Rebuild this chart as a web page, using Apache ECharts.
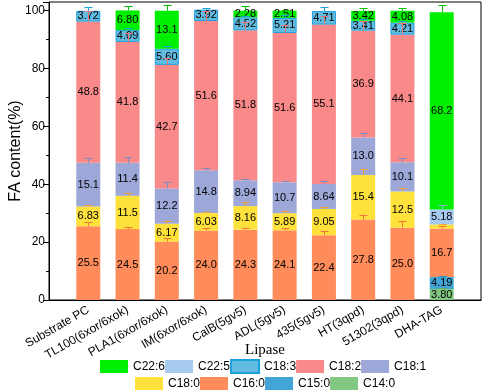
<!DOCTYPE html>
<html><head><meta charset="utf-8">
<script src="https://cdn.jsdelivr.net/npm/echarts@6/dist/echarts.min.js"></script>
<style>html,body{margin:0;padding:0;background:#fff}#c{width:484px;height:391px}</style>
</head><body><div id="c"></div>
<script>
// ---- data ----
const categories = ['Substrate PC','TL100(6xor/6xok)','PLA1(6xor/6xok)','IM(6xor/6xok)','CalB(5gv5)','ADL(5gv5)','435(5gv5)','HT(3qpd)','51302(3qpd)','DHA-TAG'];
const seriesNames = ['C14:0','C15:0','C16:0','C18:0','C18:1','C18:2','C18:3','C22:5','C22:6'];
const c14_0 = [null,null,null,null,null,null,null,null,null,3.80];
const c15_0 = [null,null,null,null,null,null,null,null,null,4.19];
const c16_0 = [25.5,24.5,20.2,24.0,24.3,24.1,22.4,27.8,25.0,16.7];
const c18_0 = [6.83,11.5,6.17,6.03,8.16,5.89,9.05,15.4,12.5,1.4];
const c18_1 = [15.1,11.4,12.2,14.8,8.94,10.7,8.64,13.0,10.1,null];
const c18_2 = [48.8,41.8,42.7,51.6,51.8,51.6,55.1,36.9,44.1,null];
const c18_3 = [3.72,4.09,5.60,3.92,4.52,5.21,4.71,3.41,4.21,null];
const c22_5 = [null,null,null,null,null,null,null,null,null,5.18];
const c22_6 = [null,6.80,13.1,null,2.28,2.51,null,3.42,4.08,68.2];
// error bars (upper), estimated
const e14_0 = [0,0,0,0,0,0,0,0,0,0.2];
const e15_0 = [0,0,0,0,0,0,0,0,0,0.3];
const e16_0 = [1.4,0.9,1.1,1.0,0.7,0.9,1.6,1.6,2.3,1.0];
const e18_0 = [0.6,0.9,1.0,0.4,1.3,0.9,0.8,2.0,1.1,0.3];
const e18_1 = [1.6,2.0,2.1,0.9,0.5,0.3,1.1,1.5,1.4,0];
const e18_2 = [3.5,3.0,2.4,3.5,3.0,2.8,3.0,3.5,4.0,0];
const e18_3 = [1.3,0.7,1.0,0.6,0.5,1.1,1.4,0.5,0.5,0];
const e22_5 = [0,0,0,0,0,0,0,0,0,1.6];
const e22_6 = [0,1.4,1.9,0,1.7,0.3,0,1.1,0.9,2.6];
const yTickLabels = [0,20,40,60,80,100];

const values = [c14_0,c15_0,c16_0,c18_0,c18_1,c18_2,c18_3,c22_5,c22_6];
const errors = [e14_0,e15_0,e16_0,e18_0,e18_1,e18_2,e18_3,e22_5,e22_6];
const colors = ['#82C882','#42A5D5','#FF8C5A','#FFE13C','#9DA7D8','#FA8A8A','#62BCE2','#A7CBF0','#00EE00'];
const errColors = ['#5DB05D','#2A8FC8','#F2753A','#F2A030','#7F8AC8','#F07272','#1EA0DC','#86B4E6','#00C000'];
const FONT = 'Liberation Sans, Arial, sans-serif';

const axisCats = [''].concat(categories, ['']);

const barSeries = seriesNames.map((name, k) => ({
  name, type: 'bar', stack: 'fa', barWidth: 24,
  data: values[k].map((v, i) => [i + 1, v]),
  itemStyle: k === 6 ? {color: colors[k], borderColor: '#1EA0DC', borderWidth: 1} : {color: colors[k]},
  label: {
    show: true, position: 'inside', color: '#000', fontSize: 11, fontFamily: FONT,
    formatter: p => (p.value[1] == null || p.value[1] < 2) ? '' : Number(p.value[1]).toPrecision(3)
  },
  emphasis: {disabled: true}
}));

const errData = [];
for (let i = 0; i < categories.length; i++) {
  let cum = 0;
  for (let k = 0; k < seriesNames.length; k++) {
    const v = values[k][i];
    if (v == null) continue;
    cum += v;
    if (errors[k][i] > 0) errData.push([i + 1, cum, errors[k][i], k]);
  }
}

const errSeries = {
  type: 'custom', z: 5, silent: true,
  data: errData,
  encode: {x: 0, y: 1},
  renderItem(params, api) {
    const x = api.value(0), top = api.value(1), err = api.value(2);
    const p0 = api.coord([x, top]);
    const p1 = api.coord([x, top + err]);
    const c = errColors[api.value(3)];
    const xx = Math.round(p0[0]) + 0.5, yt = Math.round(p1[1]) + 0.5;
    return {type: 'group', children: [
      {type: 'line', shape: {x1: xx, y1: p0[1], x2: xx, y2: yt}, style: {stroke: c, lineWidth: 1}},
      {type: 'line', shape: {x1: xx - 4, y1: yt, x2: xx + 4, y2: yt}, style: {stroke: c, lineWidth: 1}}
    ]};
  }
};

const chart = echarts.init(document.getElementById('c'), null, {renderer: 'canvas'});
const legendCommon = {
  orient: 'horizontal', itemWidth: 28, itemHeight: 13, itemGap: 0, icon: 'rect', padding: 0,
  textStyle: {fontSize: 12, fontFamily: FONT, color: '#000'},
  selectedMode: false
};
chart.setOption({
  animation: false,
  backgroundColor: '#fff',
  grid: {left: 45, right: 3, top: 2, bottom: 91, show: true, borderColor: '#000', borderWidth: 1, backgroundColor: 'transparent'},
  legend: [
    Object.assign({}, legendCommon, {left: 100, top: 359, data: ['C22:6','C22:5','C18:3','C18:2','C18:1']}),
    Object.assign({}, legendCommon, {left: 135, top: 377, data: ['C18:0','C16:0','C15:0','C14:0']})
  ],
  xAxis: {
    type: 'category', data: axisCats, boundaryGap: false,
    name: 'Lipase', nameLocation: 'middle', nameGap: 43, nameMoveOverlap: false,
    nameTextStyle: {fontFamily: 'Liberation Serif, Times New Roman, serif', fontSize: 15, color: '#000'},
    axisLine: {lineStyle: {color: '#000'}},
    axisTick: {show: false},
    axisLabel: {rotate: 30, interval: 0, fontSize: 12, fontFamily: FONT, color: '#000', margin: 9},
    splitLine: {show: false}
  },
  yAxis: {
    type: 'value', min: 0, max: 103, interval: 20,
    name: 'FA content(%)', nameLocation: 'middle', nameGap: 25, nameMoveOverlap: false,
    nameTextStyle: {fontFamily: FONT, fontSize: 16, color: '#000'},
    axisLine: {show: true, lineStyle: {color: '#000'}},
    axisTick: {show: true, length: 6, lineStyle: {color: '#000'}},
    minorTick: {show: true, splitNumber: 2, length: 3, lineStyle: {color: '#000'}},
    axisLabel: {fontSize: 12, fontFamily: FONT, color: '#000', margin: 4,
      formatter: v => yTickLabels.indexOf(v) >= 0 ? String(v) : ''},
    splitLine: {show: false}
  },
  series: barSeries.concat([errSeries])
});
</script></body></html>
